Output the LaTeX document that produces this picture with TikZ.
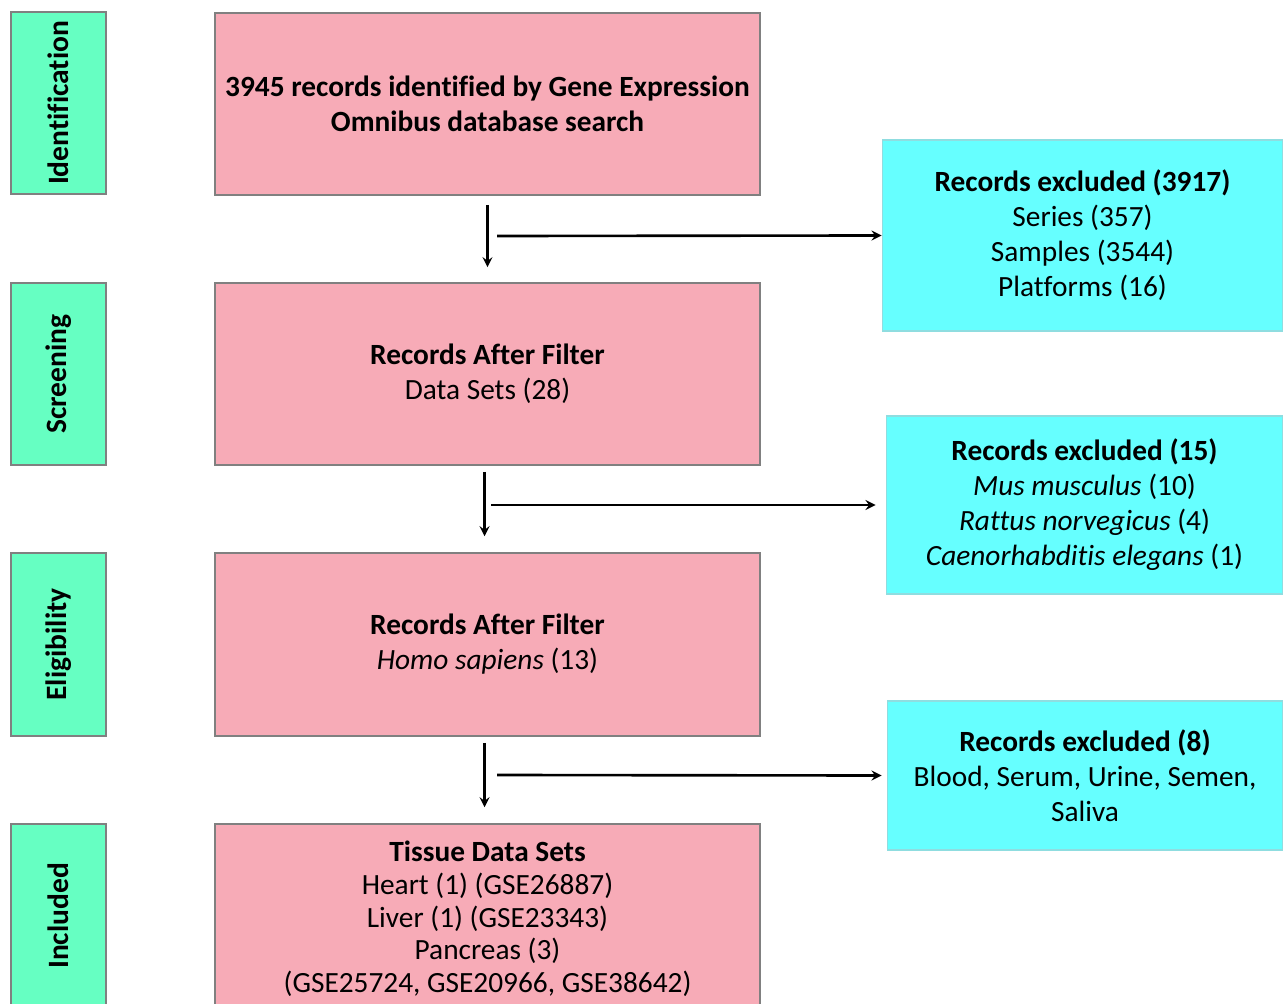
\documentclass[tikz,border=0pt]{standalone}
\usepackage{fontspec}
\setmainfont{Carlito}[Ligatures=NoCommon]
\usetikzlibrary{calc}
\usetikzlibrary{arrows}
\definecolor{stagegreen}{HTML}{66FFC2}
\definecolor{recpink}{HTML}{F7ABB7}
\definecolor{excyan}{HTML}{66FFFF}
\definecolor{edgegray}{HTML}{808080}
\definecolor{cyanedge}{HTML}{8FDDE0}

\begin{document}
\begin{tikzpicture}[x=0.02cm, y=-0.02cm, >=stealth, font=\fontsize{16.7}{19.9}\selectfont]
    \tikzstyle{stage}=[draw=edgegray, line width=0.9pt, fill=stagegreen, rectangle, minimum width=1.9cm, inner sep=0pt, font=\fontsize{16.8}{19.9}\selectfont\bfseries]
    \tikzstyle{record}=[draw=edgegray, line width=0.9pt, fill=recpink, rectangle, minimum width=10.9cm, inner sep=0pt, align=center]
    \tikzstyle{excl}=[draw=cyanedge, line width=0.6pt, fill=excyan, rectangle, inner sep=0pt, align=center]
    \tikzstyle{flow}=[->, line width=1.5pt]

    \useasboundingbox (0,0) rectangle (1283,1003);
    \clip (0,0) rectangle (1283,1003);

    % stages
    \node[stage, minimum height=3.64cm] (idf) at (58.5,103) {\rotatebox{90}{Identification}};
    \node[stage, minimum height=3.64cm] (scr) at (58.5,374) {\rotatebox{90}{Screening}};
    \node[stage, minimum height=3.66cm] (elg) at (58.5,644.5) {\rotatebox{90}{Eligibility}};
    \node[stage, minimum height=3.68cm] (inc) at (58.5,916) {\rotatebox{90}{Included}};

    % records
    \node[record, minimum height=3.64cm] (rec1) at (487.5,104)
        {\textbf{3945 records identified by Gene Expression}\\\textbf{Omnibus database search}};
    \node[record, minimum height=3.64cm] (rec2) at (487.5,374)
        {\textbf{Records After Filter}\\Data Sets (28)};
    \node[record, minimum height=3.66cm] (rec3) at (487.5,644.5)
        {\textbf{Records After Filter}\\\textit{Homo sapiens} (13)};
    \node[record, minimum height=3.8cm] (rec4) at (487.5,919)
        {\textbf{Tissue Data Sets}\\[-1.3pt]Heart (1) (GSE26887)\\[-1.3pt]Liver (1) (GSE23343)\\[-1.3pt]Pancreas (3)\\[-1.3pt](GSE25724, GSE20966, GSE38642)};

    % excluded
    \node[excl, minimum width=8.02cm, minimum height=3.82cm] (ex1) at (1082.5,235.5)
        {\textbf{Records excluded (3917)}\\Series (357)\\Samples (3544)\\Platforms (16)};
    \node[excl, minimum width=7.94cm, minimum height=3.56cm] (ex2) at (1084.5,505)
        {\textbf{Records excluded (15)}\\\textit{Mus musculus} (10)\\\textit{Rattus norvegicus} (4)\\\textit{Caenorhabditis elegans} (1)};
    \node[excl, minimum width=7.92cm, minimum height=2.98cm] (ex3) at (1085,775.5)
        {\textbf{Records excluded (8)}\\Blood, Serum, Urine, Semen,\\Saliva};

    \coordinate (s1) at (497,236);
    \coordinate (s2) at (491,505);
    \coordinate (s3) at (497,775);

    \draw[flow] ($(rec1.south)+(0,9)$) -- ($(rec2.north)+(0,-15)$);
    \draw[flow] ($(rec2.south)+(-3,6)$) -- ($(rec3.north)+(-3,-16)$);
    \draw[flow] ($(rec3.south)+(-3,6)$) -- ($(rec4.north)+(-3,-16)$);

    \draw[flow] (s1) -- (ex1.west);
    \draw[flow, shorten >=10*0.02cm] (s2) -- (ex2.west);
    \draw[flow, shorten >=5*0.02cm] (s3) -- (ex3.west);
\end{tikzpicture}
\end{document}
